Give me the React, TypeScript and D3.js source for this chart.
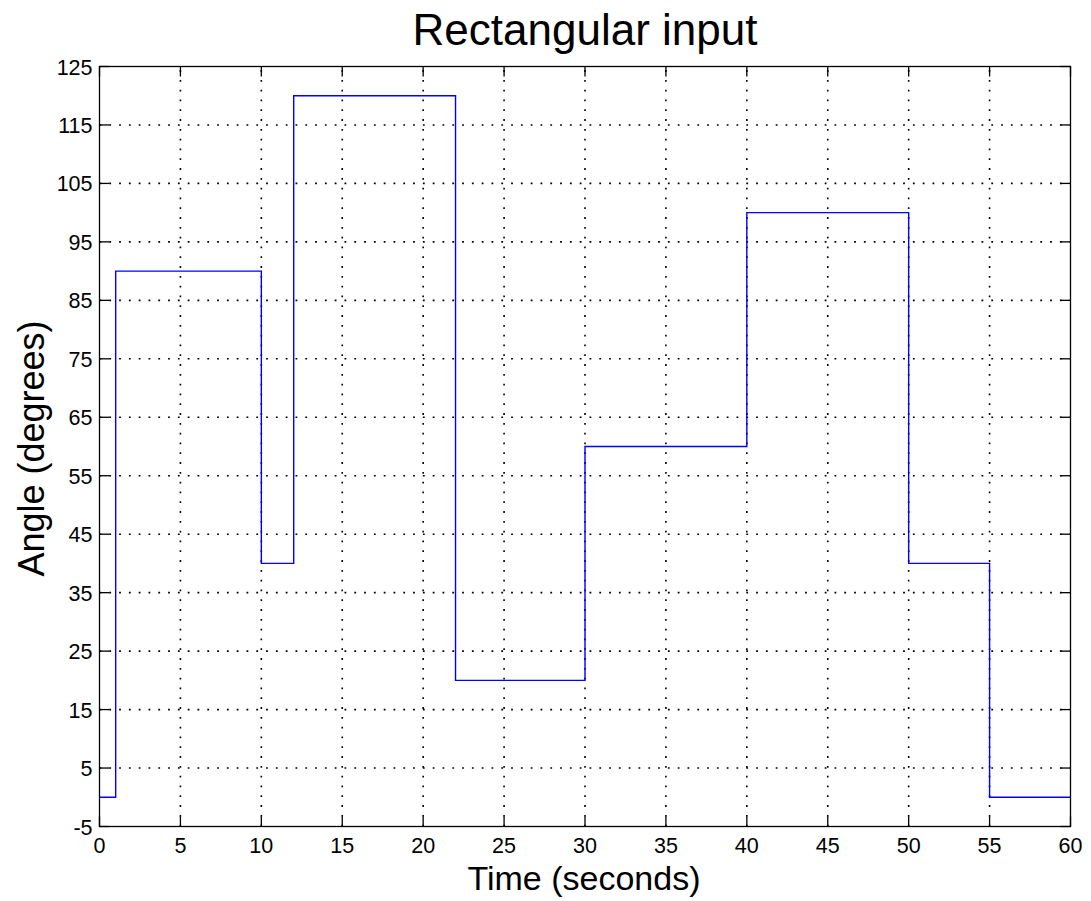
import React from "react";
import * as d3 from "d3";

const stepTimes = [0, 1, 10, 12, 22, 30, 40, 50, 55, 60];
const stepValues = [0, 90, 40, 120, 20, 60, 100, 40, 0, 0];
const xTicks = [0, 5, 10, 15, 20, 25, 30, 35, 40, 45, 50, 55, 60];
const yTicks = [-5, 5, 15, 25, 35, 45, 55, 65, 75, 85, 95, 105, 115, 125];

const W = 1091;
const H = 901;
const L = 99.5, R = 1070.5, T = 66.5, B = 826.5;
const FONT = "'Liberation Sans', Arial, sans-serif";

export default function App() {
  const x = d3.scaleLinear().domain([0, 60]).range([L, R]);
  const y = d3.scaleLinear().domain([-5, 125]).range([B, T]);
  const pts = stepTimes.map((t, i) => [t, stepValues[i]] as [number, number]);
  const line = d3
    .line<[number, number]>()
    .x((d) => x(d[0]))
    .y((d) => y(d[1]))
    .curve(d3.curveStepAfter);
  const tl = 10;
  return (
    <svg
      width={W}
      height={H}
      style={{ position: "absolute", left: 0, top: 0, background: "#fff" }}
      fontFamily={FONT}
    >
      <rect x={0} y={0} width={W} height={H} fill="#fff" />
      {/* grid */}
      <g stroke="#000" strokeWidth={1.6} strokeDasharray="1.8,8">
        {xTicks.slice(1, -1).map((t) => (
          <line key={"gx" + t} x1={x(t)} x2={x(t)} y1={B} y2={T} />
        ))}
        {yTicks.slice(1, -1).map((t) => (
          <line key={"gy" + t} x1={L} x2={R} y1={y(t)} y2={y(t)} />
        ))}
      </g>
      {/* ticks */}
      <g stroke="#000" strokeWidth={1.3}>
        {xTicks.map((t) => (
          <g key={"tx" + t}>
            <line x1={x(t)} x2={x(t)} y1={B} y2={B - tl} />
            <line x1={x(t)} x2={x(t)} y1={T} y2={T + tl} />
          </g>
        ))}
        {yTicks.map((t) => (
          <g key={"ty" + t}>
            <line x1={L} x2={L + tl} y1={y(t)} y2={y(t)} />
            <line x1={R} x2={R - tl} y1={y(t)} y2={y(t)} />
          </g>
        ))}
      </g>
      {/* data */}
      <path d={line(pts) || ""} fill="none" stroke="#0000ff" strokeWidth={1.4} />
      {/* frame */}
      <rect x={L} y={T} width={R - L} height={B - T} fill="none" stroke="#000" strokeWidth={1.3} />
      {/* tick labels */}
      <g fontSize={21.5} fill="#000">
        {yTicks.map((t) => (
          <text key={"ly" + t} x={L - 7} y={y(t) + 8} textAnchor="end">
            {t}
          </text>
        ))}
        {xTicks.map((t) => (
          <text key={"lx" + t} x={x(t)} y={853} textAnchor="middle">
            {t}
          </text>
        ))}
      </g>
      <text x={585} y={45} fontSize={44} textAnchor="middle" fill="#000">
        Rectangular input
      </text>
      <text x={584} y={890} fontSize={34} textAnchor="middle" fill="#000">
        Time (seconds)
      </text>
      <text
        transform={`translate(44, ${(T + B) / 2 + 2}) rotate(-90)`}
        fontSize={36}
        textAnchor="middle"
        fill="#000"
      >
        Angle (degrees)
      </text>
    </svg>
  );
}
